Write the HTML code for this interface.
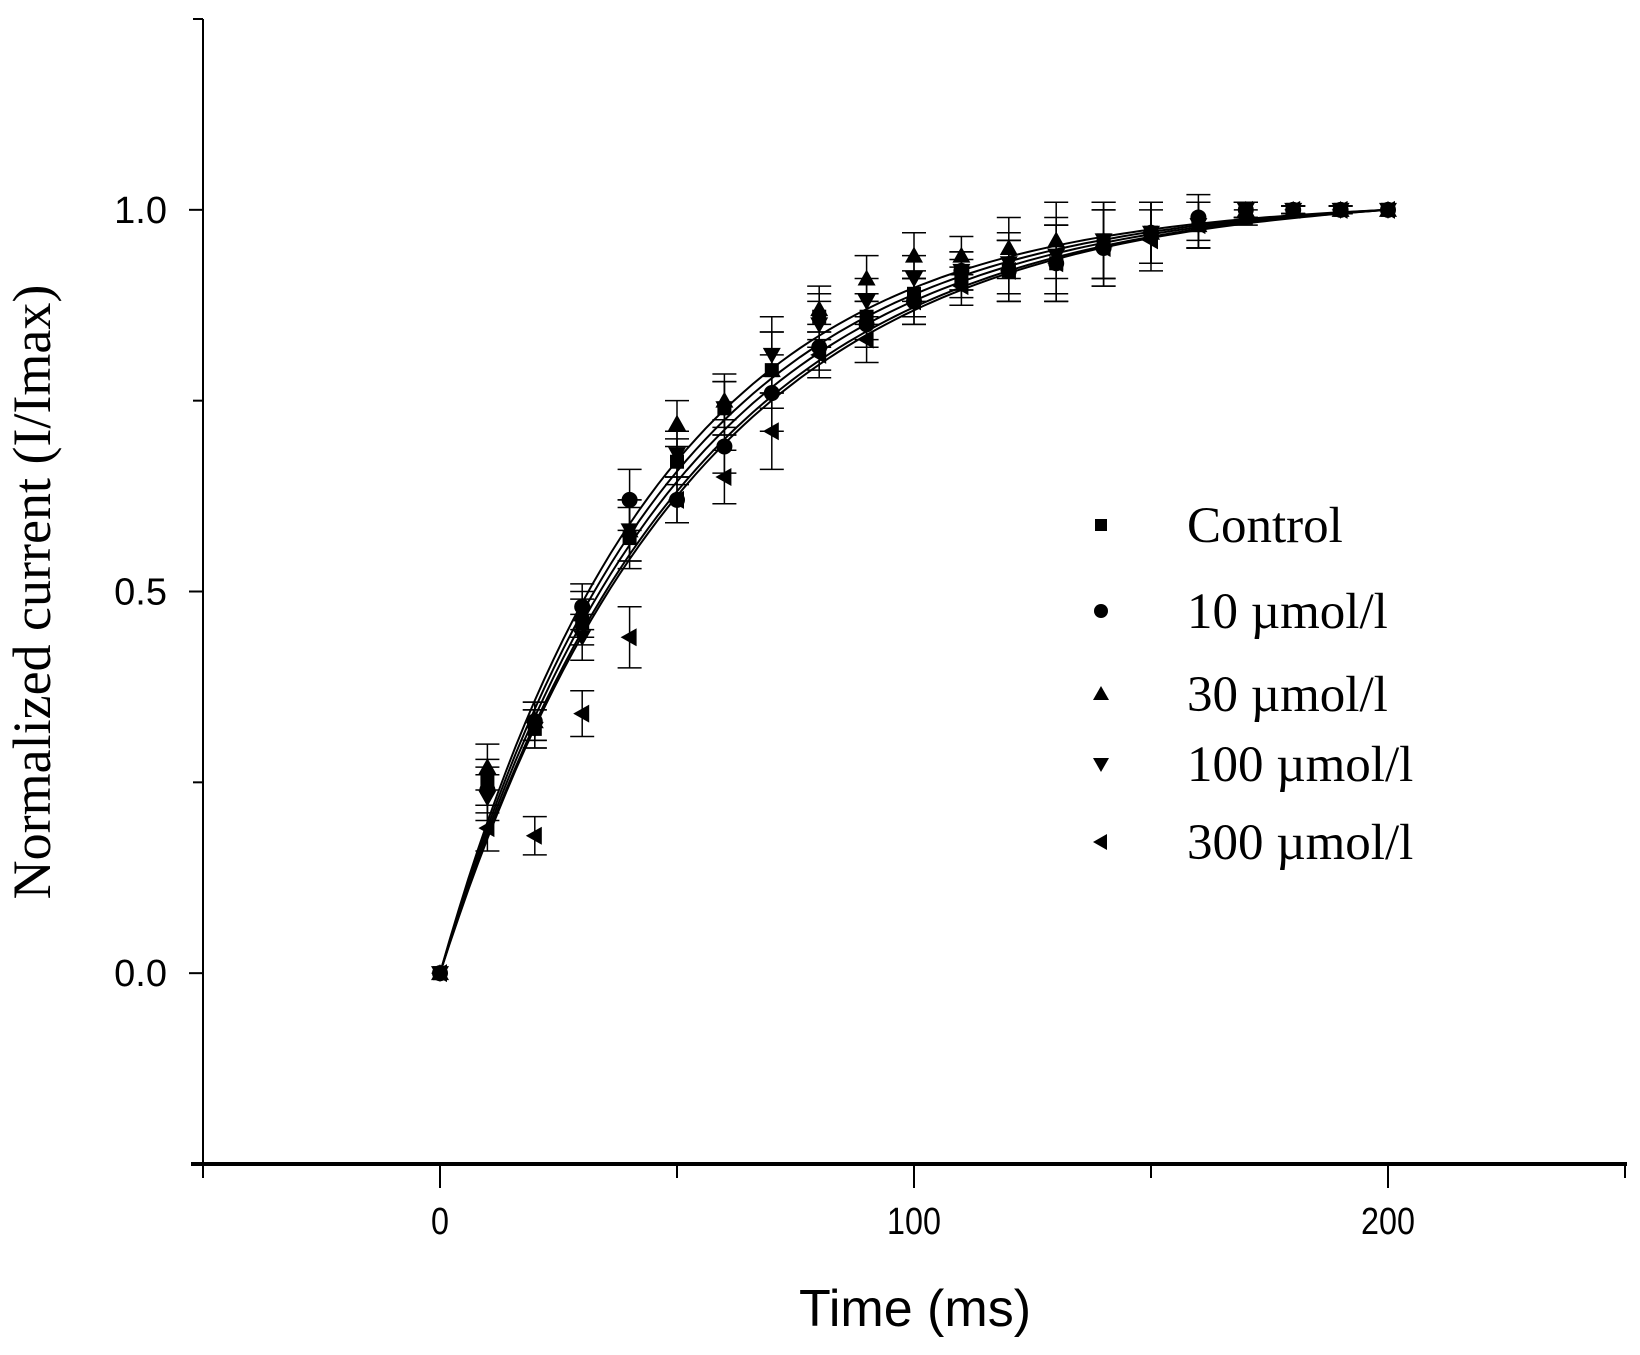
<!DOCTYPE html>
<html><head><meta charset="utf-8">
<style>
html,body{margin:0;padding:0;background:#fff;}
svg{display:block;}
</style></head>
<body>
<svg id="chart" width="1640" height="1355" viewBox="0 0 1640 1355" xmlns="http://www.w3.org/2000/svg"></svg>
<script>
const times = [0,10,20,30,40,50,60,70,80,90,100,110,120,130,140,150,160,170,180,190,200];
const seriesNames = ["Control","10 \u00b5mol/l","30 \u00b5mol/l","100 \u00b5mol/l","300 \u00b5mol/l"];
const controlVals = [0,0.25,0.32,0.46,0.57,0.67,0.74,0.79,0.86,0.86,0.89,0.91,0.92,0.93,0.96,0.97,0.98,0.99,1,1,1];
const c10Vals = [0,0.24,0.33,0.48,0.62,0.62,0.69,0.76,0.82,0.85,0.88,0.92,0.92,0.93,0.95,0.97,0.99,1,1,1,1];
const c30Vals = [0,0.27,0.33,0.47,0.58,0.72,0.75,0.79,0.87,0.91,0.94,0.94,0.95,0.96,0.96,0.97,0.98,1,1,1,1];
const c100Vals = [0,0.23,0.32,0.44,0.58,0.68,0.74,0.81,0.85,0.88,0.91,0.92,0.93,0.94,0.96,0.97,0.98,1,1,1,1];
const c300Vals = [0,0.19,0.18,0.34,0.44,0.62,0.65,0.71,0.81,0.83,0.88,0.90,0.92,0.93,0.95,0.96,0.98,1,1,1,1];
const errVals = [0,0.03,0.025,0.03,0.04,0.03,0.035,0.05,0.03,0.03,0.03,0.025,0.04,0.05,0.05,0.04,0.03,0.01,0.005,0.005,0];
const fitTaus = [52,50,46,48,53];
const xTicks = [0,100,200];
const yTicks = [0.0,0.5,1.0];
const yTickLabels = ["0.0","0.5","1.0"];

const NS="http://www.w3.org/2000/svg";
const svg=document.getElementById('chart');
const X0=203,X1=1625,Y0=1164,Y1=19;
const xMin=-50,xMax=250,yMin=-0.25,yMax=1.25;
function sx(v){return X0+(v-xMin)/(xMax-xMin)*(X1-X0);}
function sy(v){return Y0-(v-yMin)/(yMax-yMin)*(Y0-Y1);}
function mk(tag,attrs,parent){const e=document.createElementNS(NS,tag);for(const k in attrs)e.setAttribute(k,attrs[k]);(parent||svg).appendChild(e);return e;}

let ax=mk('line',{x1:X0,y1:Y1,x2:X0,y2:Y0+2,stroke:'#000','stroke-width':2});


ax=mk('line',{x1:X0-12,y1:Y0,x2:X1+2,y2:Y0,stroke:'#000','stroke-width':4});



for(let v=-50;v<=250;v+=50){
  const major=(v%100===0);
  const t=mk('line',{x1:sx(v),y1:Y0,x2:sx(v),y2:Y0+(major?24:14),stroke:'#000','stroke-width':2});
  
  
}
xTicks.forEach(v=>{
  const t=mk('text',{x:sx(v),y:Y0+70,'text-anchor':'middle','font-family':'Liberation Sans, sans-serif','font-size':38,transform:`translate(${sx(v)},0) scale(0.85,1) translate(${-sx(v)},0)`});
  t.textContent=String(v);
  
  
});
for(let v=-0.25;v<=1.251;v+=0.25){
  const major=Math.abs(v*2-Math.round(v*2))<1e-6;
  const t=mk('line',{x1:X0,y1:sy(v),x2:X0-(major?14:10),y2:sy(v),stroke:'#000','stroke-width':2});
  
  
}
yTicks.forEach((v,i)=>{
  const t=mk('text',{x:X0-36,y:sy(v)+13,'text-anchor':'end','font-family':'Liberation Sans, sans-serif','font-size':38});
  t.textContent=yTickLabels[i];
  
  
});
let tt=mk('text',{x:915,y:1326,'text-anchor':'middle','font-family':'Liberation Sans, sans-serif','font-size':52});
tt.textContent='Time (ms)';


tt=mk('text',{x:0,y:0,'text-anchor':'middle','font-family':'Liberation Serif, serif','font-size':54,transform:'translate(50,592) rotate(-90)'});
tt.textContent='Normalized current  (I/Imax)';



fitTaus.forEach((tau,i)=>{
  const norm=1-Math.exp(-200/tau);
  let d='';
  for(let t=0;t<=200;t+=2){const v=(1-Math.exp(-t/tau))/norm;d+=(t?'L':'M')+sx(t).toFixed(1)+','+sy(v).toFixed(1);}
  const p=mk('path',{d:d,fill:'none',stroke:'#000','stroke-width':2});
  
  
});

function marker(kind,cx,cy,s,parent){
  let e;
  if(kind===0) e=mk('rect',{x:cx-s,y:cy-s,width:2*s,height:2*s,fill:'#000'},parent);
  else if(kind===1) e=mk('circle',{cx:cx,cy:cy,r:s+1,fill:'#000'},parent);
  else if(kind===2) e=mk('polygon',{points:`${cx},${cy-s-2} ${cx-s-2},${cy+s} ${cx+s+2},${cy+s}`,fill:'#000'},parent);
  else if(kind===3) e=mk('polygon',{points:`${cx},${cy+s+2} ${cx-s-2},${cy-s} ${cx+s+2},${cy-s}`,fill:'#000'},parent);
  else e=mk('polygon',{points:`${cx-s-2},${cy} ${cx+s},${cy-s-2} ${cx+s},${cy+s+2}`,fill:'#000'},parent);
  return e;
}

const allSeries=[controlVals,c10Vals,c30Vals,c100Vals,c300Vals];
allSeries.forEach((vals,si)=>{
  const g=mk('g',{});
  
  
  vals.forEach((v,j)=>{
    const x=sx(times[j]),e=errVals[j];
    if(e>0){
      const eb=mk('path',{d:`M${x},${sy(v+e)}L${x},${sy(v-e)}M${x-12},${sy(v+e)}L${x+12},${sy(v+e)}M${x-12},${sy(v-e)}L${x+12},${sy(v-e)}`,stroke:'#000','stroke-width':1.5,fill:'none'},g);
      
      
    }
    const m=marker(si,x,sy(v),7,g);
    
    
  });
});

const legY=[525,611,694,764,842];
seriesNames.forEach((n,i)=>{
  const g=mk('g',{});
  
  
  marker(i,1101,legY[i],6,g);
  const t=mk('text',{x:1187,y:legY[i]+17,'font-family':'Liberation Serif, serif','font-size':51},g);
  t.textContent=n;
});
</script>
</body></html>
